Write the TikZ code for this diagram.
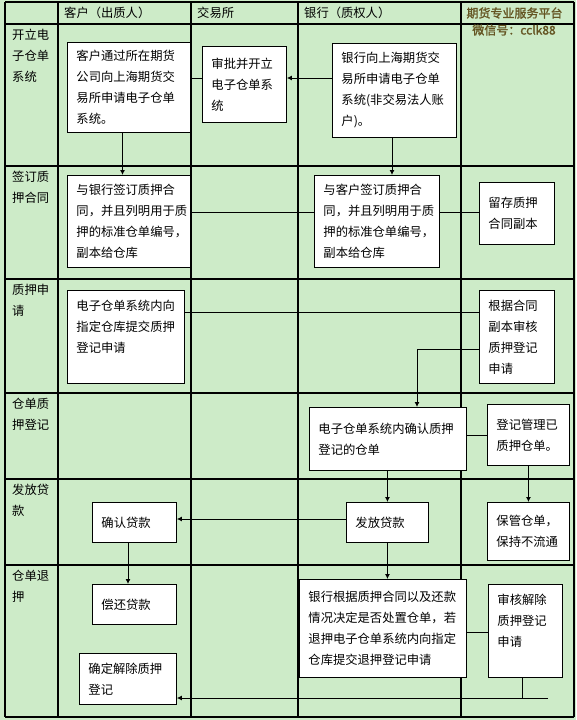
\documentclass[tikz,border=0pt]{standalone}
\usepackage{fontspec}
\setmainfont{Noto Sans CJK SC}
\newfontfamily\markfont[FakeBold=1.5]{Noto Sans CJK SC}
\usetikzlibrary{arrows.meta}
\definecolor{lanegreen}{RGB}{205,235,200}
\definecolor{markbrown}{RGB}{100,84,34}
\tikzset{
  lane/.style={line width=1.1pt},
  stepbox/.style={draw, line width=0.9pt, fill=white, anchor=north west, align=left, inner xsep=9pt, inner ysep=2pt},
  flowarrow/.style={-{Latex[length=5pt,width=5pt]}, line width=0.9pt},
  link/.style={line width=0.9pt},
  rowlabel/.style={anchor=north west, align=left, inner sep=0pt},
  headlabel/.style={anchor=west, inner sep=0pt},
  watermark/.style={text=markbrown, inner sep=0pt, font=\markfont\fontsize{12}{14}\selectfont}
}

\begin{document}
\begin{tikzpicture}[x=1pt, y=-1pt, every node/.style={font=\fontsize{12.3}{21}\selectfont}]
  \useasboundingbox (0,0) rectangle (576,720);
  \fill[lanegreen] (0,0) rectangle (576,720);

  % swimlane grid
  \foreach \x in {5,58,191,298,461,574}
    \draw[lane] (\x,2) -- (\x,717);
  \foreach \y in {2,24,166,279,393,479,565,717}
    \draw[lane] (5,\y) -- (574,\y);

  % lane heads
  \node[headlabel] (h_cust) at (64,13) {客户（出质人）};
  \node[headlabel] (h_exch) at (197,13) {交易所};
  \node[headlabel] (h_bank) at (304,13) {银行（质权人）};
  \node[watermark] (wm1) at (514.5,13) {期货专业服务平台};
  \node[watermark] (wm2) at (514,30) {微信号：cclk88};

  % stage labels
  \node[rowlabel] (r_open) at (12,28.5) {开立电\\子仓单\\系统};
  \node[rowlabel] (r_sign) at (12,170.5) {签订质\\押合同};
  \node[rowlabel] (r_req) at (12,283.5) {质押申\\请};
  \node[rowlabel] (r_reg) at (12,397.5) {仓单质\\押登记};
  \node[rowlabel] (r_loan) at (12,483.5) {发放贷\\款};
  \node[rowlabel] (r_ret) at (12,569.5) {仓单退\\押};

  % opening
  \node[stepbox, text width=105pt, minimum height=90pt] (open_cust) at (67,42) {客户通过所在期货\\公司向上海期货交\\易所申请电子仓单\\系统。};
  \node[stepbox, text width=66pt, minimum height=76pt] (open_exch) at (202,46) {审批并开立\\电子仓单系\\统};
  \node[stepbox, text width=106pt, minimum height=94pt] (open_bank) at (332,43) {银行向上海期货交\\易所申请电子仓单\\系统(非交易法人账\\户)。};

  % contract
  \node[stepbox, text width=105pt, minimum height=92pt] (sign_cust) at (67,175) {与银行签订质押合\\同，并且列明用于质\\押的标准仓单编号，\\副本给仓库};
  \node[stepbox, text width=107pt, minimum height=92pt] (sign_bank) at (314,175) {与客户签订质押合\\同，并且列明用于质\\押的标准仓单编号，\\副本给仓库};
  \node[stepbox, text width=57pt, minimum height=62pt] (sign_wh) at (479,182) {留存质押\\合同副本};

  % request
  \node[stepbox, text width=99pt, minimum height=93pt] (req_cust) at (67,290) {电子仓单系统内向\\指定仓库提交质押\\登记申请\\ \mbox{}};
  \node[stepbox, text width=57pt, minimum height=93pt] (req_wh) at (479,290) {根据合同\\副本审核\\质押登记\\申请};

  % registration
  \node[stepbox, text width=139pt, minimum height=63pt] (reg_bank) at (309,407) {电子仓单系统内确认质押\\登记的仓单};
  \node[stepbox, text width=64pt, minimum height=61pt] (reg_wh) at (487,404) {登记管理已\\质押仓单。};

  % loan
  \node[stepbox, text width=66pt, minimum height=40pt] (loan_cust) at (92,502) {确认贷款};
  \node[stepbox, text width=64pt, minimum height=40pt] (loan_bank) at (346,502) {发放贷款};
  \node[stepbox, text width=64pt, minimum height=58pt] (loan_wh) at (487,502) {保管仓单，\\保持不流通};

  % release
  \node[stepbox, text width=66pt, minimum height=40pt] (ret_pay) at (92,584) {偿还贷款};
  \node[stepbox, text width=79pt, minimum height=51pt] (ret_conf) at (79,653) {确定解除质押\\登记};
  \node[stepbox, text width=149pt, minimum height=98pt] (ret_bank) at (299,579) {银行根据质押合同以及还款\\情况决定是否处置仓单，若\\退押电子仓单系统内向指定\\仓库提交退押登记申请};
  \node[stepbox, text width=56pt, minimum height=93pt] (ret_wh) at (488,584) {审核解除\\质押登记\\申请\\ \mbox{}};
  \coordinate (ret_end) at (548,698);

  % connectors
  \draw[flowarrow] (open_bank.west |- 0,78) -- (open_exch.east |- 0,78);
  \draw[link] (open_exch.west |- 0,78) -- (open_cust.east |- 0,78);
  \draw[flowarrow] (open_cust.south -| 122.5,0) -- (sign_cust.north -| 122.5,0);
  \draw[flowarrow] (open_bank.south -| 392,0) -- (sign_bank.north -| 392,0);
  \draw[link] (sign_cust.east |- 0,212) -- (sign_bank.west |- 0,212);
  \draw[link] (sign_bank.east |- 0,212) -- (sign_wh.west |- 0,212);
  \draw[link] (req_cust.east |- 0,312) -- (req_wh.west |- 0,312);
  \draw[flowarrow] (req_wh.west |- 0,349) -| (reg_bank.north -| 417,0);
  \draw[link] (reg_bank.east |- 0,435) -- (reg_wh.west |- 0,435);
  \draw[flowarrow] (reg_bank.south -| loan_bank.north) -- (loan_bank.north);
  \draw[flowarrow] (reg_wh.south) -- (loan_wh.north);
  \draw[flowarrow] (loan_bank.west |- 0,519) -- (loan_cust.east |- 0,519);
  \draw[flowarrow] (loan_cust.south -| 128,0) -- (ret_pay.north -| 128,0);
  \draw[flowarrow] (loan_bank.south) -- (ret_bank.north -| loan_bank.south);
  \draw[link] (ret_bank.east |- 0,632) -- (ret_wh.west |- 0,632);
  \draw[link] (ret_wh.south -| 522,0) -- (ret_end -| 522,0);
  \draw[flowarrow] (ret_end) -- (ret_conf.east |- ret_end);
\end{tikzpicture}
\end{document}
